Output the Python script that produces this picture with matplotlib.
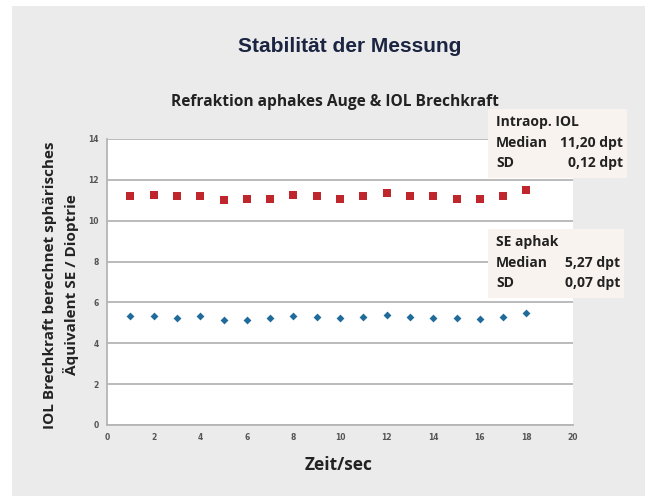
import matplotlib
matplotlib.use("Agg")
import matplotlib.pyplot as plt
from matplotlib.patches import Rectangle

# Data
zeit = list(range(1, 19))
iol = [11.19, 11.28, 11.19, 11.19, 10.99, 11.07, 11.07, 11.28, 11.19,
       11.07, 11.19, 11.38, 11.19, 11.19, 11.07, 11.07, 11.19, 11.48]
se_aphak = [5.32, 5.34, 5.26, 5.32, 5.16, 5.16, 5.24, 5.34, 5.27,
            5.24, 5.27, 5.40, 5.27, 5.26, 5.24, 5.19, 5.27, 5.47]
xticks = list(range(0, 21, 2))
yticks = list(range(0, 15, 2))

title = "Stabilität der Messung"
subtitle = "Refraktion aphakes Auge & IOL Brechkraft"
xlabel = "Zeit/sec"
ylabel = "IOL Brechkraft berechnet sphärisches\nÄquivalent SE / Dioptrie"
box1 = ["Intraop. IOL", ("Median", "11,20 dpt"), ("SD", "0,12 dpt")]
box2 = ["SE aphak", ("Median", "5,27 dpt"), ("SD", "0,07 dpt")]

FONT = "Open Sans"
W, H = 651, 496
fig = plt.figure(figsize=(W / 100, H / 100), dpi=100)
fig.patch.set_facecolor("white")

# gray slide panel
fig.patches.append(Rectangle((12 / W, 0), (645 - 12) / W, (490) / H,
                             transform=fig.transFigure, facecolor="#ebebeb",
                             edgecolor="none", zorder=-5))

ax = fig.add_axes([107 / W, 1 - 425 / H, (573 - 107) / W, (425 - 139) / H])
ax.set_zorder(1)
ax.set_facecolor("white")
ax.set_xlim(0, 20)
ax.set_ylim(0, 14)
ax.set_xticks(xticks)
ax.set_yticks(yticks)
ax.tick_params(length=0, labelsize=5.5, labelcolor="#555555", pad=6)
for lab in ax.get_xticklabels() + ax.get_yticklabels():
    lab.set_fontweight("bold")
ax.grid(axis="y", color="#b5b5b5", linewidth=1.3)
ax.set_axisbelow(True)
for s in ["top", "right"]:
    ax.spines[s].set_visible(False)
for s in ["left", "bottom"]:
    ax.spines[s].set_color("#b5b5b5")
    ax.spines[s].set_linewidth(1.3)

ax.scatter(zeit, iol, marker="s", s=30, color="#c0272d", zorder=3, linewidths=0)
ax.scatter(zeit, se_aphak, marker="D", s=16, color="#1f6c9c", zorder=3, linewidths=0)

fig.text(350 / W, 1 - 46 / H, title, ha="center", va="center",
         family="Liberation Sans", fontweight="bold", fontsize=15, color="#1b2440")
fig.text(335 / W, 1 - 102 / H, subtitle, ha="center", va="center",
         family=FONT, fontweight="bold", fontsize=11.2, color="#222222")
fig.text(339 / W, 1 - 465 / H, xlabel, ha="center", va="center",
         family=FONT, fontweight="bold", fontsize=12.5, color="#222222")
fig.text(61 / W, 1 - 285 / H, ylabel, ha="center", va="center", rotation=90,
         family=FONT, fontweight="bold", fontsize=11, color="#222222",
         linespacing=1.45, multialignment="center")


def draw_box(x0, y0, x1, y1, lines):
    fig.patches.append(Rectangle((x0 / W, 1 - y1 / H), (x1 - x0) / W, (y1 - y0) / H,
                                 transform=fig.transFigure, facecolor="#f8f3ee",
                                 edgecolor="none", zorder=5))
    ys = [y0 + 13, y0 + 34, y0 + 54]
    fs = 10
    fig.text((x0 + 8) / W, 1 - ys[0] / H, lines[0], ha="left", va="center",
             family=FONT, fontweight="bold", fontsize=fs, color="#222222", zorder=6)
    for (k, v), yy in zip(lines[1:], ys[1:]):
        fig.text((x0 + 8) / W, 1 - yy / H, k, ha="left", va="center",
                 family=FONT, fontweight="bold", fontsize=fs, color="#222222", zorder=6)
        fig.text((x1 - 4) / W, 1 - yy / H, v, ha="right", va="center",
                 family=FONT, fontweight="bold", fontsize=fs, color="#222222", zorder=6)


draw_box(488, 109, 627, 178, box1)
draw_box(488, 229, 624, 298, box2)

fig.savefig("out.png", dpi=100, facecolor=fig.get_facecolor())
